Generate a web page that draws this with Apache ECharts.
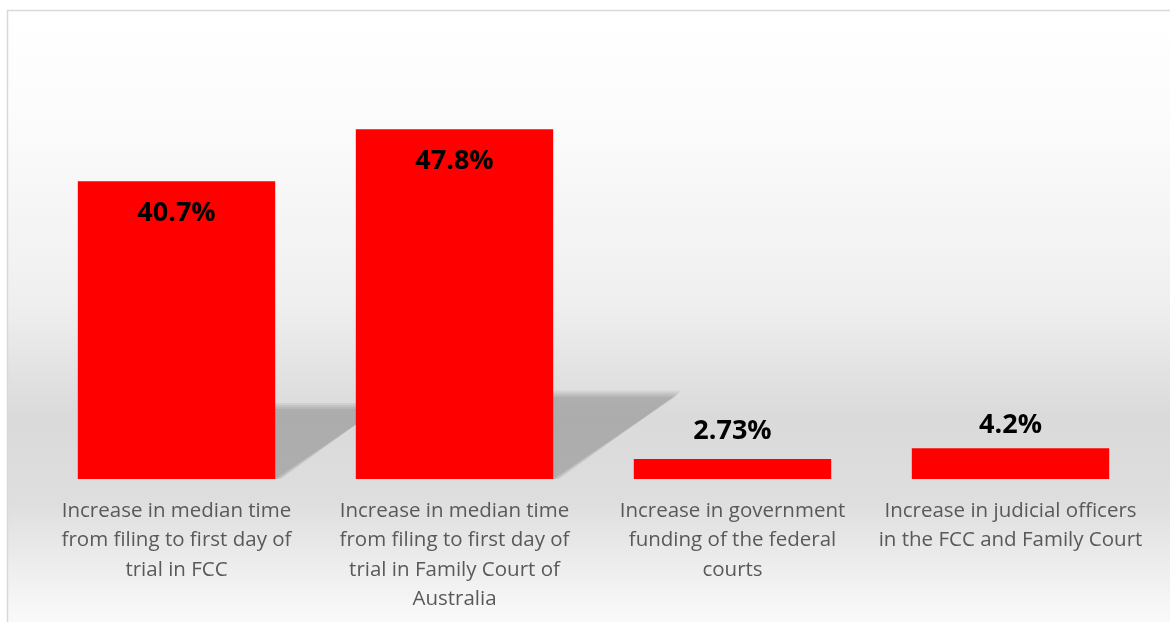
<!DOCTYPE html>
<html>
<head>
<meta charset="utf-8">
<script src="https://cdn.jsdelivr.net/npm/echarts@6/dist/echarts.min.js"></script>
<style>
html,body{margin:0;padding:0;background:#fff;}
#chart{width:1170px;height:622px;}
</style>
</head>
<body>
<div id="chart"></div>
<script>
var categories = [
  "Increase in median time\nfrom filing to first day of\ntrial in FCC",
  "Increase in median time\nfrom filing to first day of\ntrial in Family Court of\nAustralia",
  "Increase in government\nfunding of the federal\ncourts",
  "Increase in judicial officers\nin the FCC and Family Court"
];
var values = [40.7, 47.8, 2.73, 4.2];
var valueLabels = ["40.7%", "47.8%", "2.73%", "4.2%"];

var chart = echarts.init(document.getElementById('chart'), null, {renderer: 'canvas'});
var FONT = '"Open Sans", "Noto Sans", sans-serif';

var option = {
  animation: false,
  backgroundColor: '#ffffff',
  graphic: [
    {
      type: 'rect', z: -10, silent: true,
      shape: {x: 7.5, y: 10.5, width: 1200, height: 700},
      style: {
        fill: {
          type: 'linear', x: 0, y: 0, x2: 0, y2: 1, global: false,
          colorStops: [
            {offset: 0, color: '#ffffff'},
            {offset: 0.15, color: '#fcfcfc'},
            {offset: 0.42, color: '#efefef'},
            {offset: 0.58, color: '#dadada'},
            {offset: 0.70, color: '#dedede'},
            {offset: 0.78, color: '#ebebeb'},
            {offset: 0.86, color: '#f8f8f8'},
            {offset: 1, color: '#ffffff'}
          ]
        },
        stroke: '#d9d9d9', lineWidth: 1.5
      }
    }
  ],
  grid: {left: 37.5, right: 20.5, top: 40, bottom: 143, containLabel: false},
  xAxis: {
    type: 'category',
    data: categories,
    axisLine: {show: false},
    axisTick: {show: false},
    axisLabel: {
      interval: 0,
      margin: 17,
      color: '#595959',
      fontFamily: FONT,
      fontSize: 20.5,
      lineHeight: 29.5
    }
  },
  yAxis: {
    type: 'value',
    min: 0, max: 60,
    show: false,
    splitLine: {show: false}
  },
  series: [
    {
      type: 'custom',
      z: 1,
      silent: true,
      data: values.map(function (v, i) { return [i, v]; }),
      renderItem: function (params, api) {
        var idx = api.value(0);
        var top = api.coord([idx, api.value(1)]);
        var base = api.coord([idx, 0]);
        var band = api.size([1, 0])[0];
        var bw = band * 0.71;
        var h = base[1] - top[1];
        if (h < 60) { return null; }
        var xl = base[0] - bw / 2, xr = base[0] + bw / 2;
        var sh = h * 0.235, dx = h * 0.35;
        var layers = [];
        for (var k = 0; k < 4; k++) {
          var g = 6 - k * 2;
          layers.push({
            type: 'polygon',
            shape: {points: [[xl, base[1]], [xr + g, base[1]], [xr + dx + g, base[1] - sh - g], [xl + dx, base[1] - sh - g]]},
            style: {fill: 'rgba(0,0,0,0.055)'}
          });
        }
        return {type: 'group', children: layers};
      }
    },
    {
      type: 'bar',
      z: 2,
      barCategoryGap: '29%',
      data: values.map(function (v, i) {
        var inside = v > 10;
        return {
          value: v,
          label: {
            show: true,
            position: inside ? 'insideTop' : 'top',
            distance: inside ? 19 : (i === 2 ? 14 : 9),
            formatter: valueLabels[i],
            color: '#000',
            fontFamily: FONT,
            fontWeight: 'bold',
            fontSize: 27
          }
        };
      }),
      itemStyle: {color: '#ff0000'}
    }
  ]
};
chart.setOption(option);
</script>
</body>
</html>
